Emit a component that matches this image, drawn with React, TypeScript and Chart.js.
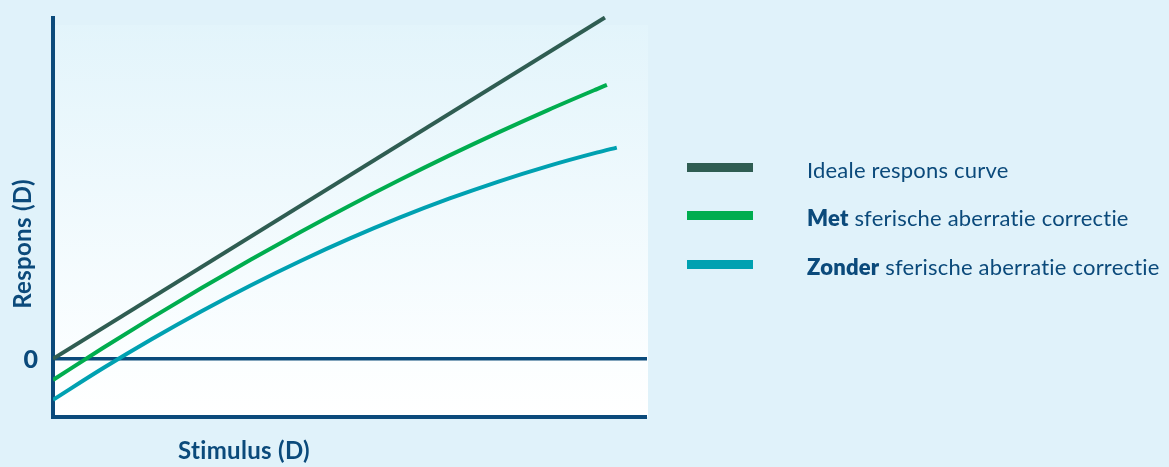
import React, { useEffect, useRef } from "react";
import { Chart, registerables } from "chart.js";

Chart.register(...registerables);

const stimulusIdeal = [0, 11.15];
const responsIdeal = [0, 11.15];
const stimulusMet = [0, 1, 2, 3, 4, 5, 6, 7, 8, 9, 10, 11, 11.19];
const responsMet = [-0.69, 0.345, 1.346, 2.314, 3.247, 4.145, 5.01, 5.84, 6.637, 7.399, 8.127, 8.821, 8.95];
const stimulusZonder = [0, 1, 2, 3, 4, 5, 6, 7, 8, 9, 10, 11, 11.39];
const responsZonder = [-1.34, -0.317, 0.648, 1.556, 2.406, 3.198, 3.933, 4.61, 5.23, 5.792, 6.296, 6.743, 6.902];
const yTickLabels = ["0"];
const xTitle = "Stimulus (D)";
const yTitle = "Respons (D)";

const NAVY = "#0b4a7b";
const COL_IDEAL = "#2f5d52";
const COL_MET = "#00ad4f";
const COL_ZONDER = "#00a1b1";

const toPts = (xs: number[], ys: number[]) => xs.map((x, i) => ({ x, y: ys[i] }));

const decor = {
  id: "decor",
  beforeDraw(chart: any) {
    const { ctx, chartArea } = chart;
    const { left, right, top, bottom } = chartArea;
    const g = ctx.createLinearGradient(0, top, 0, bottom);
    g.addColorStop(0, "#e2f4fb");
    g.addColorStop(0.85, "#fbfeff");
    g.addColorStop(1, "#ffffff");
    ctx.save();
    ctx.fillStyle = g;
    ctx.fillRect(left, top + 9, right - left + 1, bottom - top - 9);
    ctx.restore();
  },
  beforeDatasetsDraw(chart: any) {
    const { ctx, chartArea, scales } = chart;
    const { left, right, top, bottom } = chartArea;
    const y0 = scales.y.getPixelForValue(0);
    ctx.save();
    ctx.strokeStyle = NAVY;
    ctx.lineWidth = 3.5;
    ctx.beginPath();
    ctx.moveTo(left, y0);
    ctx.lineTo(right, y0);
    ctx.stroke();
    ctx.lineWidth = 4;
    ctx.beginPath();
    ctx.moveTo(left, top);
    ctx.lineTo(left, bottom);
    ctx.lineTo(right, bottom);
    ctx.stroke();
    ctx.fillStyle = NAVY;
    (ctx as any).letterSpacing = "0.3px";
    ctx.font = "900 25px Lato";
    ctx.textAlign = "center";
    ctx.textBaseline = "middle";
    ctx.fillText(yTickLabels[0], left - 22, y0 + 1);
    ctx.font = "bold 24px Lato";
    ctx.fillText(xTitle, left + 191, bottom + 34);
    ctx.translate(left - 30, 244);
    ctx.rotate(-Math.PI / 2);
    ctx.fillText(yTitle, 0, 0);
    ctx.restore();
  },
};

export default function App() {
  const ref = useRef<HTMLCanvasElement>(null);
  useEffect(() => {
    if (!ref.current) return;
    const chart = new Chart(ref.current, {
      type: "line",
      data: {
        datasets: [
          {
            label: "Ideale respons curve",
            data: toPts(stimulusIdeal, responsIdeal),
            borderColor: COL_IDEAL,
            borderWidth: 4,
            pointRadius: 0,
            tension: 0,
          },
          {
            label: "Met sferische aberratie correctie",
            data: toPts(stimulusMet, responsMet),
            borderColor: COL_MET,
            borderWidth: 4,
            pointRadius: 0,
            cubicInterpolationMode: "monotone",
          },
          {
            label: "Zonder sferische aberratie correctie",
            data: toPts(stimulusZonder, responsZonder),
            borderColor: COL_ZONDER,
            borderWidth: 4,
            pointRadius: 0,
            cubicInterpolationMode: "monotone",
          },
        ],
      },
      options: {
        animation: false,
        responsive: false,
        devicePixelRatio: 1,
        layout: { padding: { left: 53, top: 16, right: 522, bottom: 50 } },
        plugins: { legend: { display: false }, tooltip: { enabled: false } },
        scales: {
          x: { type: "linear", min: 0, max: 12, display: false },
          y: { type: "linear", min: -1.9, max: 11.2, display: false },
        },
      },
      plugins: [decor],
    } as any);
    return () => chart.destroy();
  }, []);

  const legendItems = [
    { color: COL_IDEAL, bold: "", rest: "Ideale respons curve", top: 167 },
    { color: COL_MET, bold: "Met", rest: " sferische aberratie correctie", top: 215 },
    { color: COL_ZONDER, bold: "Zonder", rest: " sferische aberratie correctie", top: 264 },
  ];

  return (
    <div
      style={{
        position: "fixed",
        left: 0,
        top: 0,
        width: 1169,
        height: 467,
        background: "#e0f2fa",
        overflow: "hidden",
        fontFamily: "Lato, sans-serif",
      }}
    >
      <canvas ref={ref} width={1169} height={467} style={{ position: "absolute", left: 0, top: 0 }} />
      {legendItems.map((it, i) => (
        <div
          key={i}
          style={{
            position: "absolute",
            left: 687,
            top: it.top - 15,
            height: 30,
            display: "flex",
            alignItems: "center",
            whiteSpace: "nowrap",
          }}
        >
          <span style={{ display: "inline-block", width: 66, height: 9, background: it.color }} />
          <span
            style={{
              marginLeft: 54,
              fontSize: 22,
              color: NAVY,
              position: "relative",
              top: 2,
              letterSpacing: "0.2px",
              fontVariantLigatures: "none",
            }}
          >
            {it.bold ? <b style={{ fontWeight: 800 }}>{it.bold}</b> : null}
            {it.rest}
          </span>
        </div>
      ))}
    </div>
  );
}
